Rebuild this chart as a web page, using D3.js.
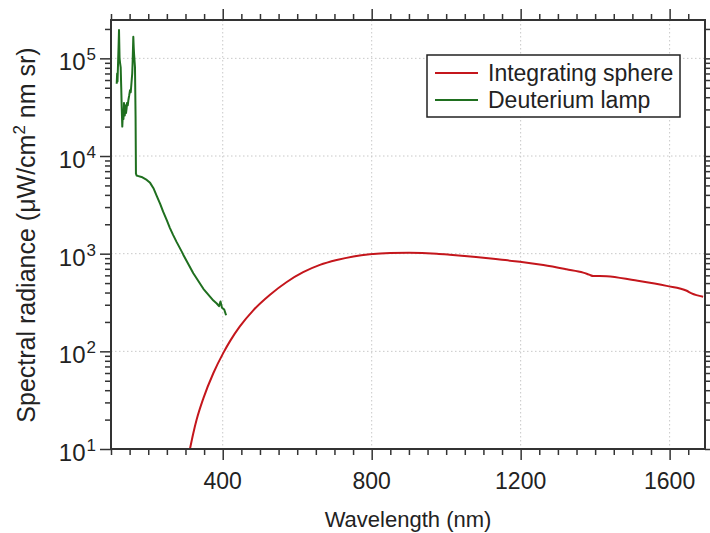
<!DOCTYPE html>
<html>
<head>
<meta charset="utf-8">
<script src="https://cdn.jsdelivr.net/npm/d3@7"></script>
<style>
  body { margin: 0; background: #fff; }
  svg text { font-family: "Liberation Sans", Arial, sans-serif; fill: #222; }
  .grid line { stroke: #c8c8c8; stroke-width: 1; stroke-dasharray: 1.5, 2.5; }
  .ticks line { stroke: #333; stroke-width: 1.5; }
</style>
</head>
<body>
<script>
// integrating sphere (red) : wavelength (nm) and radiance
const sphereWl  = [312, 321, 330, 348, 375, 402, 420, 446, 482, 527, 572, 616, 661, 706, 751, 795, 850, 900, 975, 1010, 1080, 1144, 1198, 1261, 1323, 1368, 1384, 1395, 1412, 1431, 1502, 1592, 1646, 1659, 1690];
const sphereRad = [10, 14.5, 20, 33, 60, 97, 128, 180, 263, 380, 513, 646, 767, 861, 938, 989, 1019, 1023, 1000, 977, 925, 871, 826, 764, 692, 640, 610, 590, 592, 588, 537, 468, 417, 392, 363];

// deuterium lamp (green)
const lampWl  = [115.3, 116.5, 117.5, 119, 120.5, 121.5, 123, 124.5, 126, 127.5, 128.7, 130.3, 132, 133.5, 134.9, 136, 137, 138.5, 140.3, 142, 143, 145, 146.5, 148, 149, 151, 153, 155.6, 157, 158, 159.9, 161, 162, 164.4, 166, 167, 169, 182, 196, 205, 214, 223, 232, 240, 250, 258, 267, 276, 290, 294, 321, 348, 375, 384, 390, 394, 398, 404, 409];
const lampRad = [55000, 70000, 58000, 90000, 140000, 195000, 100000, 89000, 81000, 50000, 32000, 20000, 28000, 24000, 35000, 30000, 26000, 33000, 27500, 31000, 35000, 33000, 37000, 40000, 42000, 47000, 45000, 60000, 70000, 89000, 166000, 130000, 110000, 81000, 25000, 6600, 6300, 6100, 5690, 5310, 4680, 3890, 3240, 2690, 2190, 1840, 1550, 1320, 1050, 977, 631, 437, 331, 309, 290, 324, 280, 268, 234];

const xMajorTicks = [400, 800, 1200, 1600];
const yDecades = [1, 2, 3, 4, 5];
const seriesNames = ["Integrating sphere", "Deuterium lamp"];
const seriesColors = ["#c4161c", "#1f6f1f"];

const width = 710, height = 533;
const pLeft = 111, pRight = 705, pTop = 20, pBottom = 449;

const x = d3.scaleLinear().domain([100, 1695]).range([pLeft, pRight]);
const y = d3.scaleLog().domain([10, 2.47e5]).range([pBottom, pTop]);

const svg = d3.select("body").append("svg")
  .attr("width", width)
  .attr("height", height);

svg.append("rect").attr("width", width).attr("height", height).attr("fill", "#fff");

// tick positions
const xMinor = d3.range(100, 1700, 50).filter(v => !xMajorTicks.includes(v) && x(v) <= pRight);
const yMinor = [];
yDecades.forEach(d => {
  for (let k = 2; k <= 9; k++) {
    const v = k * Math.pow(10, d);
    if (v <= y.domain()[1]) yMinor.push(v);
  }
});
const yMajor = yDecades.map(d => Math.pow(10, d));

// grid
const grid = svg.append("g").attr("class", "grid");
grid.selectAll(".gx").data(xMajorTicks).join("line")
  .attr("x1", d => x(d)).attr("x2", d => x(d))
  .attr("y1", pTop).attr("y2", pBottom);
grid.selectAll(".gy").data(yMajor.slice(1)).join("line")
  .attr("x1", pLeft).attr("x2", pRight)
  .attr("y1", d => y(d)).attr("y2", d => y(d));

// lines
svg.append("clipPath").attr("id", "clip")
  .append("rect").attr("x", pLeft).attr("y", pTop)
  .attr("width", pRight - pLeft).attr("height", pBottom - pTop);

const sphere = sphereWl.map((w, i) => [w, sphereRad[i]]);
const lamp = lampWl.map((w, i) => [w, lampRad[i]]);

svg.append("path")
  .datum(sphere)
  .attr("clip-path", "url(#clip)")
  .attr("fill", "none")
  .attr("stroke", seriesColors[0])
  .attr("stroke-width", 2)
  .attr("d", d3.line().x(d => x(d[0])).y(d => y(d[1])).curve(d3.curveMonotoneX));

svg.append("path")
  .datum(lamp)
  .attr("clip-path", "url(#clip)")
  .attr("fill", "none")
  .attr("stroke", seriesColors[1])
  .attr("stroke-width", 2)
  .attr("stroke-linejoin", "round")
  .attr("d", d3.line().x(d => x(d[0])).y(d => y(d[1])));

// ticks on all four sides, pointing outward
const noLabel = g => g.call(a => a.select(".domain").remove()).call(a => a.selectAll("text").remove());
const ticks = svg.append("g").attr("class", "ticks");

ticks.append("g").attr("transform", `translate(0,${pBottom})`)
  .call(d3.axisBottom(x).tickValues(xMinor).tickSize(6)).call(noLabel);
ticks.append("g").attr("transform", `translate(0,${pBottom})`)
  .call(d3.axisBottom(x).tickValues(xMajorTicks).tickSize(11)).call(noLabel);
ticks.append("g").attr("transform", `translate(0,${pTop})`)
  .call(d3.axisTop(x).tickValues(xMinor).tickSize(6)).call(noLabel);
ticks.append("g").attr("transform", `translate(0,${pTop})`)
  .call(d3.axisTop(x).tickValues(xMajorTicks).tickSize(11)).call(noLabel);

ticks.append("g").attr("transform", `translate(${pLeft},0)`)
  .call(d3.axisLeft(y).tickValues(yMinor).tickSize(6)).call(noLabel);
ticks.append("g").attr("transform", `translate(${pLeft},0)`)
  .call(d3.axisLeft(y).tickValues(yMajor).tickSize(11)).call(noLabel);
ticks.append("g").attr("transform", `translate(${pRight},0)`)
  .call(d3.axisRight(y).tickValues(yMinor).tickSize(6)).call(noLabel);
ticks.append("g").attr("transform", `translate(${pRight},0)`)
  .call(d3.axisRight(y).tickValues(yMajor).tickSize(11)).call(noLabel);

// frame
svg.append("rect")
  .attr("x", pLeft).attr("y", pTop)
  .attr("width", pRight - pLeft).attr("height", pBottom - pTop)
  .attr("fill", "none").attr("stroke", "#333").attr("stroke-width", 2);

// x tick labels
svg.selectAll(".xlab").data(xMajorTicks).join("text")
  .attr("x", d => x(d)).attr("y", pBottom + 40)
  .attr("text-anchor", "middle")
  .attr("font-size", 23)
  .text(d => d);

// y tick labels 10^n
const ylab = svg.selectAll(".ylab").data(yDecades).join("text")
  .attr("x", 96).attr("y", d => y(Math.pow(10, d)) + 12)
  .attr("text-anchor", "end")
  .attr("font-size", 24);
ylab.append("tspan").text("10");
ylab.append("tspan").attr("dy", -10).attr("dx", 1).attr("font-size", 17).text(d => d);

// axis titles
svg.append("text")
  .attr("x", (pLeft + pRight) / 2).attr("y", 527)
  .attr("text-anchor", "middle")
  .attr("font-size", 22)
  .text("Wavelength (nm)");

const yt = svg.append("text")
  .attr("transform", "translate(35,235) rotate(-90)")
  .attr("text-anchor", "middle")
  .attr("font-size", 25);
yt.append("tspan").text("Spectral radiance (\u03bcW/cm");
yt.append("tspan").attr("dy", -10).attr("font-size", 17).text("2");
yt.append("tspan").attr("dy", 10).text(" nm sr)");

// legend
const legend = svg.append("g").attr("transform", "translate(427,55)");
legend.append("rect")
  .attr("width", 253).attr("height", 62)
  .attr("fill", "#fff").attr("stroke", "#222").attr("stroke-width", 1.5);
const item = legend.selectAll(".item").data(seriesNames).join("g")
  .attr("transform", (d, i) => `translate(0,${18 + i * 27})`);
item.append("line")
  .attr("x1", 8).attr("x2", 51)
  .attr("stroke", (d, i) => seriesColors[i]).attr("stroke-width", 2);
item.append("text")
  .attr("x", 61).attr("y", 8)
  .attr("font-size", 23)
  .text(d => d);
</script>
</body>
</html>
